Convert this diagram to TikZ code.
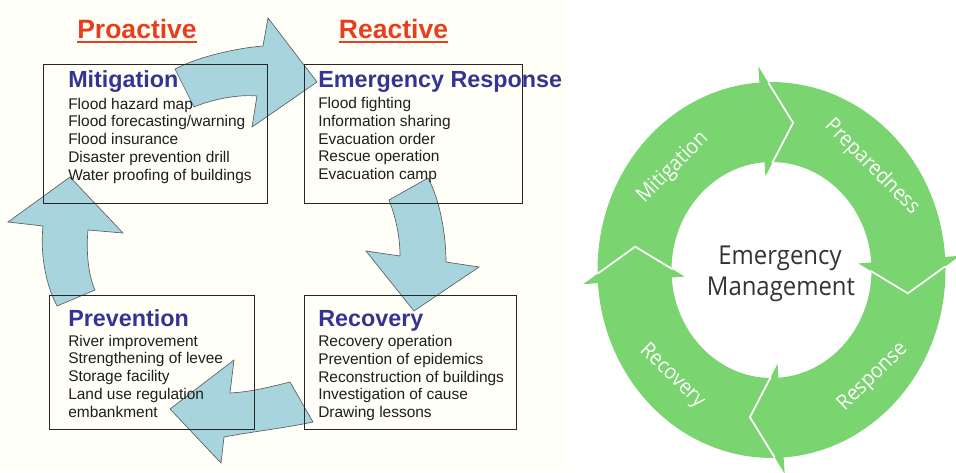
\documentclass[tikz,border=0pt]{standalone}
\usepackage{fontspec}
\setmainfont{Liberation Sans}
\newfontfamily\ringfont[FakeStretch=0.92]{Open Sans}
\usetikzlibrary{calc}

\definecolor{headblue}{RGB}{52,52,150}
\definecolor{headred}{RGB}{232,62,30}
\definecolor{flowblue}{RGB}{168,212,221}
\definecolor{flowedge}{RGB}{90,95,100}
\definecolor{ringgreen}{RGB}{122,212,112}
\definecolor{bodytext}{RGB}{30,30,30}
\definecolor{centertext}{RGB}{51,51,51}
\definecolor{paper}{RGB}{255,255,247}

\begin{document}
\begin{tikzpicture}[x=0.75pt,y=-0.75pt,
  flowarrow/.style={fill=flowblue, draw=flowedge, line width=0.5pt, line join=miter},
  panel/.style={draw=black!85, line width=0.9pt, inner sep=0pt, anchor=north west},
  phase/.style={anchor=base west, inner sep=0pt, text=headblue, font=\fontsize{17.5}{21}\selectfont\bfseries},
  item/.style={anchor=base west, inner sep=0pt, text=bodytext, font=\fontsize{11.6}{14}\selectfont},
  side/.style={anchor=base, inner sep=0pt, text=headred, font=\fontsize{19.9}{24}\selectfont\bfseries},
  ringlabel/.style={text=white, inner sep=0pt, font=\ringfont\fontsize{15.8}{18}\selectfont},
  hub/.style={anchor=base, inner sep=0pt, text=centertext, font=\ringfont\fontsize{19.5}{23}\selectfont},
]
\useasboundingbox (0,0) rectangle (956,472);
\fill[paper] (0,0) rectangle (568,472);

% ---- curved cycle arrows (left diagram) ----
\draw[flowarrow] (175,69) -- (194,107) .. controls (210,100) and (238,94) .. (257,96)
  -- (252,127) -- (317,82) -- (268,18) -- (263,46)
  .. controls (238,48) and (200,56) .. (175,69) -- cycle;
\draw[flowarrow] (428,178) -- (389,200) .. controls (396,218) and (400,237) .. (400,256)
  -- (366,251) -- (414,311) -- (479,267) -- (446,262)
  .. controls (446,235) and (440,200) .. (428,178) -- cycle;
\draw[flowarrow] (290,382) -- (313,422) .. controls (285,428) and (250,432) .. (224,437)
  -- (221,463) -- (170,409) -- (234,360) -- (230,393)
  .. controls (250,392) and (270,387) .. (290,382) -- cycle;
\draw[flowarrow] (57,306) -- (95,290) .. controls (88,275) and (86,250) .. (88,230)
  -- (123,233) -- (70,177) -- (8,222) -- (43,226)
  .. controls (40,255) and (46,285) .. (57,306) -- cycle;

% ---- phase boxes ----
\node[panel, minimum width={224*0.75pt}, minimum height={139*0.75pt}] (boxmit) at (43,64) {};
\node[panel, minimum width={218*0.75pt}, minimum height={139*0.75pt}] (boxres) at (304,64) {};
\node[panel, minimum width={205*0.75pt}, minimum height={134*0.75pt}] (boxpre) at (49,295) {};
\node[panel, minimum width={212*0.75pt}, minimum height={134*0.75pt}] (boxrec) at (304,295) {};

% ---- column headers ----
\node[side] (proactive) at (137,38) {Proactive};
\node[side] (reactive) at (393.5,38) {Reactive};
\draw[headred, line width=1.5pt] ([yshift=-3pt]proactive.base west) -- ([yshift=-3pt]proactive.base east);
\draw[headred, line width=1.5pt] ([yshift=-3pt]reactive.base west) -- ([yshift=-3pt]reactive.base east);

% ---- box contents ----
\node[phase] (hmit) at (68,87.5) {Mitigation};
\foreach \t [count=\i from 0] in {Flood hazard map, Flood forecasting/warning, Flood insurance, Disaster prevention drill, Water proofing of buildings}
  \node[item] (mit\i) at (68,{109+17.75*\i}) {\t};

\node[phase] (hres) at (318,87) {Emergency Response};
\foreach \t [count=\i from 0] in {Flood fighting, Information sharing, Evacuation order, Rescue operation, Evacuation camp}
  \node[item] (res\i) at (318,{108.5+17.75*\i}) {\t};

\node[phase] (hpre) at (68,326.5) {Prevention};
\foreach \t [count=\i from 0] in {River improvement, Strengthening of levee, Storage facility, Land use regulation, embankment}
  \node[item] (pre\i) at (68,{346+17.75*\i}) {\t};

\node[phase] (hrec) at (318,326.5) {Recovery};
\foreach \t [count=\i from 0] in {Recovery operation, Prevention of epidemics, Reconstruction of buildings, Investigation of cause, Drawing lessons}
  \node[item] (rec\i) at (318,{346.5+17.75*\i}) {\t};

% ---- emergency management ring (right diagram) ----
\begin{scope}[shift={(771.5,270)}, yscale=-1.08]
  \fill[ringgreen, even odd rule] (0,0) circle[radius=174] (0,0) circle[radius=100];
  \foreach \b in {94,4,274,184} {
    \fill[ringgreen] (\b:189) -- ({\b-13}:138) -- (\b:87) -- cycle;
    \draw[white, line width=1.3pt] ($(\b:189)!0.285!({\b-13}:138)$) -- ({\b-13}:138)
      -- ($(\b:87)!0.245!({\b-13}:138)$);
  }
\end{scope}

\node[ringlabel, rotate=45] (lmit) at (673,168) {Mitigation};
\node[ringlabel, rotate=-45] (lprep) at (872,167) {Preparedness};
\node[ringlabel, rotate=44] (lresp) at (873,377) {Response};
\node[ringlabel, rotate=-44] (lrec) at (672,376) {Recovery};

\node[hub] (hub1) at (780,264) {Emergency};
\node[hub] (hub2) at (781,295) {Management};
\end{tikzpicture}
\end{document}
